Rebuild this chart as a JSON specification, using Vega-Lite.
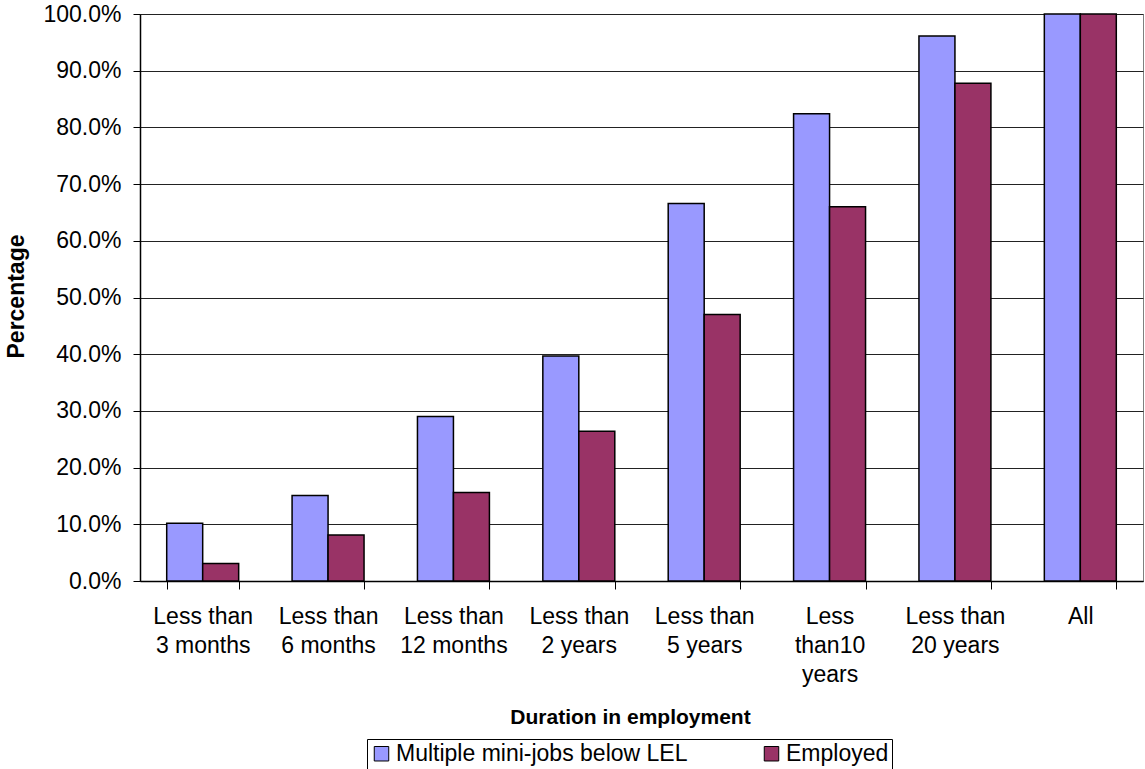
{
  "$schema": "https://vega.github.io/schema/vega-lite/v6.json",
  "width": 1003,
  "height": 567,
  "autosize": {"type": "none"},
  "padding": {"left": 140, "top": 14, "right": 2, "bottom": 188},
  "background": "white",
  "config": {
    "font": "Liberation Sans",
    "view": {"stroke": "#808080", "strokeWidth": 1}
  },
  "data": {
    "values": [
      {"duration": "Less than|3 months", "series": "Multiple mini-jobs below LEL", "pct": 10.2},
      {"duration": "Less than|3 months", "series": "Employed", "pct": 3.1},
      {"duration": "Less than|6 months", "series": "Multiple mini-jobs below LEL", "pct": 15.1},
      {"duration": "Less than|6 months", "series": "Employed", "pct": 8.1},
      {"duration": "Less than|12 months", "series": "Multiple mini-jobs below LEL", "pct": 29.0},
      {"duration": "Less than|12 months", "series": "Employed", "pct": 15.6},
      {"duration": "Less than|2 years", "series": "Multiple mini-jobs below LEL", "pct": 39.7},
      {"duration": "Less than|2 years", "series": "Employed", "pct": 26.4},
      {"duration": "Less than|5 years", "series": "Multiple mini-jobs below LEL", "pct": 66.6},
      {"duration": "Less than|5 years", "series": "Employed", "pct": 47.0},
      {"duration": "Less|than10|years", "series": "Multiple mini-jobs below LEL", "pct": 82.4},
      {"duration": "Less|than10|years", "series": "Employed", "pct": 66.0},
      {"duration": "Less than|20 years", "series": "Multiple mini-jobs below LEL", "pct": 96.1},
      {"duration": "Less than|20 years", "series": "Employed", "pct": 87.8},
      {"duration": "All", "series": "Multiple mini-jobs below LEL", "pct": 100.0},
      {"duration": "All", "series": "Employed", "pct": 100.0}
    ]
  },
  "mark": {"type": "bar", "stroke": "black", "strokeWidth": 1.5},
  "encoding": {
    "x": {
      "field": "duration",
      "type": "nominal",
      "sort": null,
      "scale": {"paddingInner": 0.426, "paddingOuter": 0.213},
      "axis": {
        "title": "Duration in employment",
        "titleFontSize": 21,
        "titleFontWeight": "bold",
        "titleColor": "black",
        "titleX": 490,
        "titleY": 136,
        "titleAlign": "center",
        "titleBaseline": "middle",
        "labelExpr": "split(datum.label, '|')",
        "labelAngle": 0,
        "labelFontSize": 23,
        "labelColor": "black",
        "labelBaseline": "top",
        "labelLineHeight": 29,
        "labelPadding": 16,
        "tickBand": "extent",
        "tickSize": 8,
        "tickColor": "black",
        "domainColor": "black",
        "domainWidth": 1.5
      }
    },
    "xOffset": {
      "field": "series",
      "type": "nominal",
      "sort": ["Multiple mini-jobs below LEL", "Employed"]
    },
    "y": {
      "field": "pct",
      "type": "quantitative",
      "scale": {"domain": [0, 100], "nice": false},
      "axis": {
        "title": "Percentage",
        "titleFontSize": 23,
        "titleFontWeight": "bold",
        "titleColor": "black",
        "titleAngle": 270,
        "titleX": -124,
        "titleY": 282,
        "titleAlign": "center",
        "titleBaseline": "middle",
        "values": [0, 10, 20, 30, 40, 50, 60, 70, 80, 90, 100],
        "labelExpr": "format(datum.value, '.1f') + '%'",
        "labelFontSize": 23,
        "labelColor": "black",
        "labelPadding": 12,
        "tickSize": 7,
        "tickColor": "black",
        "domainColor": "black",
        "domainWidth": 1.5,
        "grid": true,
        "gridColor": "#222222",
        "gridWidth": 1
      }
    },
    "color": {
      "field": "series",
      "type": "nominal",
      "scale": {
        "domain": ["Multiple mini-jobs below LEL", "Employed"],
        "range": ["#9999FF", "#993366"]
      },
      "legend": {
        "title": null,
        "orient": "none",
        "legendX": 227,
        "legendY": 725,
        "direction": "horizontal",
        "symbolType": "square",
        "symbolSize": 210,
        "symbolStrokeColor": "black",
        "symbolStrokeWidth": 1,
        "symbolOpacity": 1,
        "labelFontSize": 23,
        "labelColor": "black",
        "labelOffset": 3,
        "labelLimit": 400,
        "columnPadding": 72,
        "strokeColor": "black",
        "padding": 3
      }
    }
  }
}
